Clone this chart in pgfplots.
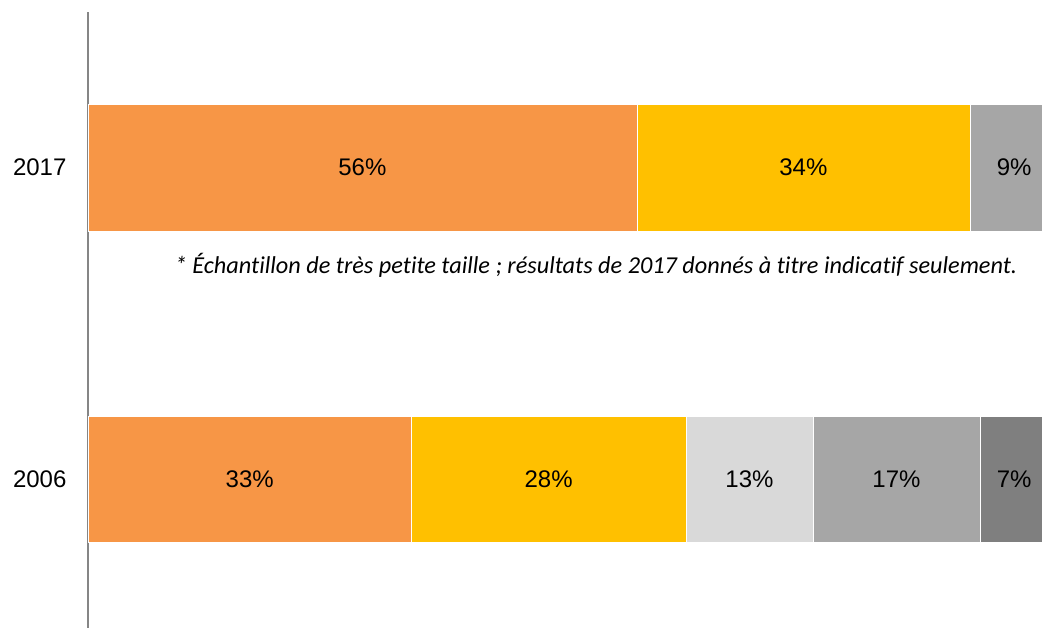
\documentclass[border=0pt]{standalone}
\usepackage{pgfplots}
\usepackage{pgfplotstable}
\pgfplotsset{compat=1.18}
\usepackage{fontspec}
\setmainfont{Liberation Sans}
\newfontfamily\footfont[Ligatures=NoCommon]{Carlito}
\definecolor{cOrange}{HTML}{F79646}
\definecolor{cYellow}{HTML}{FFC000}
\definecolor{cLight}{HTML}{D9D9D9}
\definecolor{cGray}{HTML}{A6A6A6}
\definecolor{cDark}{HTML}{7F7F7F}
\definecolor{cAxis}{HTML}{868686}
\pgfplotstableread{
y w
1 33
2 56
}\tOrange
\pgfplotstableread{
y w
1 28
2 34
}\tYellow
\pgfplotstableread{
y w
1 13
2 0
}\tLight
\pgfplotstableread{
y w
1 17
2 9
}\tGray
\pgfplotstableread{
y w
1 7
2 0
}\tDark
\begin{document}
\begin{tikzpicture}
\useasboundingbox (0,0) rectangle (781.5pt,471pt);
\begin{axis}[
  at={(66pt,0pt)}, anchor=south west,
  scale only axis, width=735pt, height=462pt,
  xbar stacked, bar width=0.405,
  xmin=0, xmax=100, ymin=0.522, ymax=2.5,
  hide x axis,
  axis y line*=left,
  y axis line style={-, draw=cAxis, line width=1.5pt},
  ytick={1,2}, yticklabels={2006,2017},
  major tick length=0pt,
  yticklabel style={font=\fontsize{18}{20}\selectfont, inner sep=0pt, xshift=-16pt},
  /pgf/number format/assume math mode=true,
  point meta=explicit,
  nodes near coords={\pgfmathfloatifflags{\pgfplotspointmeta}{0}{}{\pgfmathprintnumber{\pgfplotspointmeta}\%}},
  every node near coord/.append style={font=\fontsize{18}{20}\selectfont, text=black, anchor=center},
]
\addplot[fill=cOrange, draw=white, line width=0.3pt] table[x=w, y=y, meta=w] {\tOrange};
\addplot[fill=cYellow, draw=white, line width=0.3pt] table[x=w, y=y, meta=w] {\tYellow};
\addplot[fill=cLight, draw=white, line width=0.3pt] table[x=w, y=y, meta=w] {\tLight};
\addplot[fill=cGray, draw=white, line width=0.3pt] table[x=w, y=y, meta=w] {\tGray};
\addplot[fill=cDark, draw=white, line width=0.3pt] table[x=w, y=y, meta=w] {\tDark};
\end{axis}
\node[font=\footfont\itshape\fontsize{18.2}{20}\selectfont, inner sep=0pt] at (447pt,272pt) {* Échantillon de très petite taille ; résultats de 2017 donnés à titre indicatif seulement.};
\end{tikzpicture}
\end{document}
